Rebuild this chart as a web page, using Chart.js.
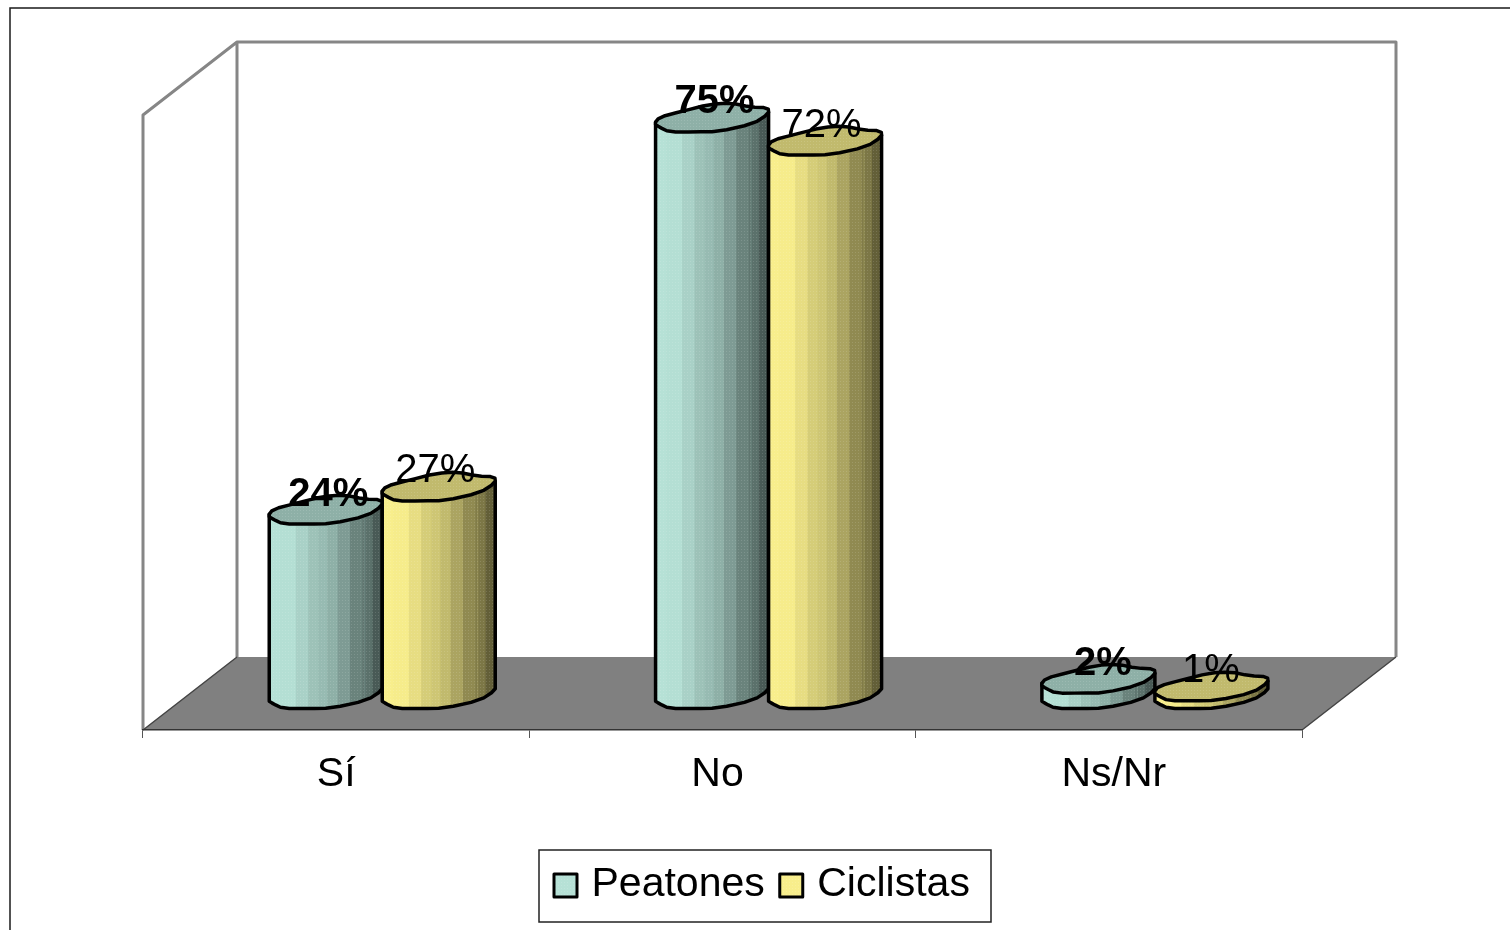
<!DOCTYPE html>
<html lang="es">
<head>
<meta charset="utf-8">
<title>Peatones y ciclistas</title>
<style>
    html, body { margin: 0; padding: 0; background: #fff; overflow: hidden; }
    canvas { display: block; }
</style>
<script src="https://cdn.jsdelivr.net/npm/chart.js@4/dist/chart.umd.js"></script>
</head>
<body>
<canvas id="chart" width="1510" height="930"></canvas>
<script>
const categories = ['Sí', 'No', 'Ns/Nr'];
const peatones = [24, 75, 2];
const ciclistas = [27, 72, 1];
const yMax = 80;

const peatonColor = [182, 225, 214];
const ciclistaColor = [248, 238, 140];
const font = "'Liberation Sans', Arial, sans-serif";

// depth of the 3d box, and where the bars stand inside it
const depth = { x: 94, y: -73 };
const barShift = { x: 45.5, y: -36 };
const capHeight = 14.5;

// nudges so the texts sit where they do in the picture
const categoryNudge = [0, -5, 5];
const labelNudge = [[3, 3, 5], [-3, -3, 0]];
const labelLift = -15;

// shading bands across a cylinder: [start of band, brightness]
const bands = [[0, 1], [0.1, 0.99], [0.24, 0.93], [0.35, 0.86], [0.44, 0.83], [0.52, 0.78], [0.61, 0.69], [0.72, 0.58], [0.83, 0.52], [0.845, 0.6], [0.855, 0.5], [0.92, 0.4]];

// outline of the (rather bumpy) cylinder top, -1..1 both ways, going over the top first
const capOutline = [[-1, 0.44], [-0.91, -0.02], [-0.52, -0.42], [-0.03, -0.91], [0.34, -1], [0.68, -0.72], [0.99, -0.67], [1, -0.26],
    [0.73, 0.44], [0.11, 0.98], [-0.29, 1], [-0.74, 1], [-0.91, 0.67]];

function rgb(c, k = 1) {
    return `rgb(${Math.round(c[0] * k)},${Math.round(c[1] * k)},${Math.round(c[2] * k)})`;
}

// cut the corners of a closed outline so it looks round
function smooth(pts) {
    const out = [];
    pts.forEach((p, i) => {
        const q = pts[(i + 1) % pts.length];
        out.push([p[0] * 0.75 + q[0] * 0.25, p[1] * 0.75 + q[1] * 0.25]);
        out.push([p[0] * 0.25 + q[0] * 0.75, p[1] * 0.25 + q[1] * 0.75]);
    });
    return out;
}

const capRound = smooth(capOutline);
const capXs = capRound.map(p => p[0]);
const capLeft = capXs.indexOf(Math.min(...capXs));
const capRight = capXs.indexOf(Math.max(...capXs));
const capWide = 2 / (capXs[capRight] - capXs[capLeft]);
const capPoints = capRound.map(p => [p[0] * capWide, p[1]]);

// front half of the outline, from the right extreme round to the left one
const capFront = [];
for (let i = capRight; i !== capLeft; i = (i + 1) % capPoints.length) capFront.push(capPoints[i]);
capFront.push(capPoints[capLeft]);

// the fine dots of the original fill
const dotCanvas = document.createElement('canvas');
dotCanvas.width = 3;
dotCanvas.height = 3;
const dotCtx = dotCanvas.getContext('2d');
dotCtx.fillStyle = 'rgba(255,255,255,0.13)';
dotCtx.fillRect(0, 0, 1, 1);

function polyline(ctx, pts) {
    pts.forEach((p, i) => (i ? ctx.lineTo(p[0], p[1]) : ctx.moveTo(p[0], p[1])));
}

function drawCylinder(ctx, bar, color) {
    const w = bar.width / 2;
    const cx = bar.x + barShift.x;
    const top = bar.y + barShift.y;
    const bottom = bar.base + barShift.y;
    const place = (p, cy) => [cx + p[0] * w, cy + p[1] * capHeight];

    // body: right edge down, front of the cap moved to the floor, left edge up
    const body = [place(capPoints[capRight], top)];
    capFront.forEach(p => body.push(place(p, bottom)));
    body.push(place(capPoints[capLeft], top));

    ctx.save();
    ctx.beginPath();
    polyline(ctx, body);
    ctx.closePath();
    ctx.save();
    ctx.clip();
    bands.forEach((b, i) => {
        const next = i + 1 < bands.length ? bands[i + 1][0] : 1;
        ctx.fillStyle = rgb(color, b[1]);
        ctx.fillRect(cx - w + b[0] * 2 * w, top - capHeight, (next - b[0]) * 2 * w + 1, bottom - top + capHeight * 2);
    });
    ctx.fillStyle = ctx.createPattern(dotCanvas, 'repeat');
    ctx.fillRect(cx - w, top - capHeight, 2 * w, bottom - top + capHeight * 2);
    ctx.restore();
    ctx.lineWidth = 3.5;
    ctx.lineJoin = 'round';
    ctx.strokeStyle = '#000';
    ctx.stroke();

    // top of the cylinder
    ctx.beginPath();
    polyline(ctx, capPoints.map(p => place(p, top)));
    ctx.closePath();
    ctx.fillStyle = rgb(color, 0.78);
    ctx.fill();
    ctx.fillStyle = ctx.createPattern(dotCanvas, 'repeat');
    ctx.fill();
    ctx.stroke();
    ctx.restore();
}

const box3d = {
    id: 'box3d',
    afterLayout(chart) {
        // legend starts at a fixed place, not centred on the page
        const legend = chart.legend;
        legend.adjustHitBoxes();
        const shift = 554 - legend.legendHitBoxes[0].left;
        legend.left += shift;
        legend.right += shift;
        legend.adjustHitBoxes();
    },
    beforeDraw(chart) {
        const ctx = chart.ctx;
        const a = chart.chartArea;
        const x = chart.scales.x;

        // outer frame runs off the page on the right and at the bottom
        ctx.save();
        ctx.strokeStyle = '#1a1a1a';
        ctx.lineWidth = 1.5;
        ctx.strokeRect(10, 8, 1600, 1000);

        ctx.fillStyle = '#808080';
        ctx.beginPath();
        polyline(ctx, [[a.left, a.bottom], [a.left + depth.x, a.bottom + depth.y], [a.right + depth.x, a.bottom + depth.y], [a.right, a.bottom]]);
        ctx.closePath();
        ctx.fill();

        ctx.strokeStyle = '#868686';
        ctx.lineWidth = 3;
        ctx.lineJoin = 'round';
        ctx.beginPath();
        polyline(ctx, [[a.left, a.bottom], [a.left, a.top], [a.left + depth.x, a.top + depth.y], [a.right + depth.x, a.top + depth.y], [a.right + depth.x, a.bottom + depth.y]]);
        ctx.moveTo(a.left + depth.x, a.top + depth.y);
        ctx.lineTo(a.left + depth.x, a.bottom + depth.y);
        ctx.stroke();

        ctx.strokeStyle = '#444';
        ctx.lineWidth = 1.5;
        ctx.beginPath();
        ctx.moveTo(a.right, a.bottom);
        ctx.lineTo(a.right + depth.x, a.bottom + depth.y);
        ctx.moveTo(a.left, a.bottom);
        ctx.lineTo(a.left + depth.x, a.bottom + depth.y);
        ctx.stroke();
        ctx.restore();

        x.getLabelItems().forEach((item, i) => {
            item.options.translation[0] = x.getPixelForTick(i) + categoryNudge[i];
        });
    },
    beforeDatasetDraw() {
        return false;
    },
    afterDatasetsDraw(chart) {
        const ctx = chart.ctx;
        const sets = chart.data.datasets;
        sets.forEach((set, i) => {
            chart.getDatasetMeta(i).data.forEach(bar => drawCylinder(ctx, bar, set.baseColor));
        });
        ctx.save();
        ctx.fillStyle = '#000';
        ctx.textAlign = 'center';
        ctx.textBaseline = 'middle';
        sets.forEach((set, i) => {
            ctx.font = `${set.labelWeight} 40px ${font}`;
            chart.getDatasetMeta(i).data.forEach((bar, j) => {
                ctx.fillText(set.data[j] + '%', bar.x + barShift.x + labelNudge[i][j], bar.y + barShift.y + labelLift);
            });
        });
        ctx.restore();
    },
    afterDraw(chart) {
        const ctx = chart.ctx;
        const legend = chart.legend;
        const hits = legend.legendHitBoxes;
        ctx.save();
        ctx.strokeStyle = '#222';
        ctx.lineWidth = 1.5;
        ctx.strokeRect(hits[0].left - 15, legend.top + 1, 452, 72);
        chart.data.datasets.forEach((set, i) => {
            ctx.fillStyle = rgb(set.baseColor);
            ctx.fillRect(hits[i].left, legend.top + 25, 23, 23);
            ctx.fillStyle = ctx.createPattern(dotCanvas, 'repeat');
            ctx.fillRect(hits[i].left, legend.top + 25, 23, 23);
            ctx.strokeStyle = '#000';
            ctx.lineWidth = 3;
            ctx.lineJoin = 'round';
            ctx.strokeRect(hits[i].left, legend.top + 25, 23, 23);
        });
        ctx.restore();
    }
};

new Chart(document.querySelector('#chart').getContext('2d'), {
    type: 'bar',
    data: {
        labels: categories,
        datasets: [
            {
                label: 'Peatones',
                data: peatones,
                backgroundColor: rgb(peatonColor),
                baseColor: peatonColor,
                labelWeight: 'bold'
            },
            {
                label: 'Ciclistas',
                data: ciclistas,
                backgroundColor: rgb(ciclistaColor),
                baseColor: ciclistaColor,
                labelWeight: 'normal'
            }
        ]
    },
    options: {
        responsive: false,
        animation: false,
        layout: { padding: { left: 143, right: 208, top: 115, bottom: 15 } },
        datasets: { bar: { barPercentage: 1, categoryPercentage: 0.585 } },
        scales: {
            x: {
                afterFit(scale) { scale.height = 119; },
                grid: { drawOnChartArea: false, tickLength: 8, tickColor: '#555', tickWidth: 1 },
                border: { color: '#333', width: 1.5 },
                ticks: { color: '#000', padding: 12, maxRotation: 0, font: { family: font, size: 41 } }
            },
            y: { display: false, min: 0, max: yMax }
        },
        plugins: {
            tooltip: { enabled: false },
            legend: {
                position: 'bottom',
                labels: {
                    boxWidth: 17,
                    boxHeight: 17,
                    padding: 15,
                    color: '#000',
                    font: { family: font, size: 41 }
                }
            }
        }
    },
    plugins: [box3d]
});
</script>
</body>
</html>
